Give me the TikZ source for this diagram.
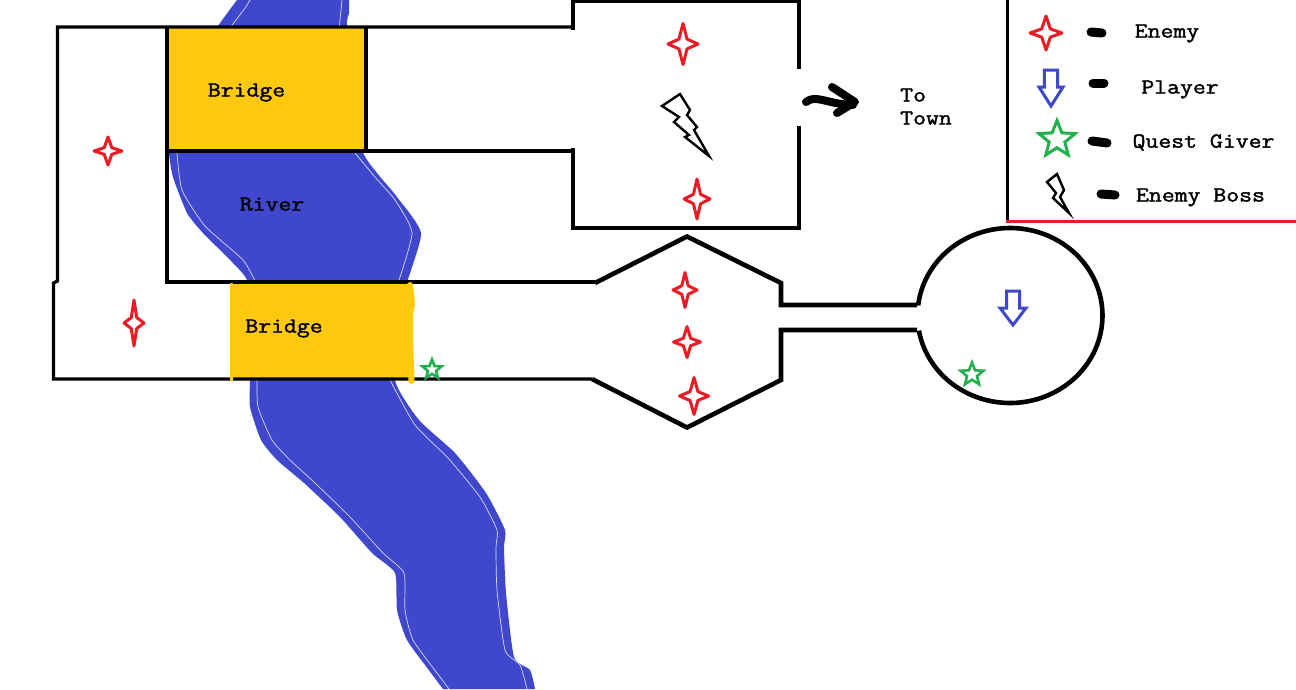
\documentclass[tikz,border=0pt]{standalone}
\usepackage{fontspec}
\usetikzlibrary{shapes.geometric}
\newfontfamily\maplabelfont[FakeBold=1.6]{Latin Modern Mono}
\definecolor{riverblue}{HTML}{3F48CC}
\definecolor{bridgeyellow}{HTML}{FFC90E}
\definecolor{enemyred}{HTML}{ED1C24}
\definecolor{questgreen}{HTML}{22B14C}
\definecolor{riverline}{HTML}{D5D8F4}
\tikzset{
  wall/.style={black,line width=3.2pt,line join=miter},
  heavywall/.style={black,line width=4.6pt,line join=miter},
  enemymark/.style={enemyred,line width=3pt,line join=round},
  playermark/.style={riverblue,line width=3pt,line join=miter},
  questmark/.style={questgreen,line width=3pt,line join=miter,draw,shape=star,star points=5,star point ratio=2.3,inner sep=0pt},
  bossmark/.style={black,line width=2.4pt,line join=miter},
  dashmark/.style={black,line width=9pt,line cap=round},
  txt/.style={font=\fontsize{21.4}{23}\maplabelfont,text=black,inner sep=0pt,text depth=0pt,xscale=1.17,transform shape},
  riveredge/.style={riverline,line width=0.7pt}
}
\newcommand{\fourstar}[4]{\draw[enemymark,shift={(#1,#2)},xscale=#3,yscale=#4]
  (1,0)--(.27,.24)--(0,1)--(-.27,.24)--(-1,0)--(-.27,-.24)--(0,-1)--(.27,-.24)--cycle;}
\newcommand{\downarrowmark}[6]{\draw[playermark] (#1-#3,#2)--(#1+#3,#2)--(#1+#3,#5)--(#1+#4,#5)--(#1,#6)--(#1-#4,#5)--(#1-#3,#5)--cycle;}
\begin{document}
\begin{tikzpicture}[x=1pt,y=-1pt]
\useasboundingbox (0,0) rectangle (1296,689);
\fill[white] (0,0) rectangle (1296,689);
% river
\fill[riverblue,line join=round] plot[smooth,tension=0.35] coordinates {
 (237,0) (218,26) (190,70) (169,120) (169,153) (173,177) (187,213) (203,233) (233,263) (248,283)
 (250,340) (250,380) (250,407) (261,440) (277,460) (304,483) (340,517) (372,553) (395,573) (397,610) (407,640) (431,673) (443,689)}
 -- plot[smooth,tension=0.35] coordinates {
 (535,689) (530,670) (514,657) (506,593) (504,547) (505,530) (486,493) (455,453) (419,420) (395,380)
 (403,320) (407,283) (421,233) (397,197) (377,173) (363,152) (355,100) (347,26) (349,13) (349,0)} -- cycle;
\draw[riveredge] plot[smooth,tension=0.35] coordinates {(250,0) (245,8) (228,30) (213,42)};
\draw[riveredge] plot[smooth,tension=0.35] coordinates {(342,0) (339,30)};
\draw[riveredge] plot[smooth,tension=0.35] coordinates {(177,153) (182,190) (205,226) (243,260) (257,285)};
\draw[riveredge] plot[smooth,tension=0.35] coordinates {(355,153) (375,177) (395,200) (412,233) (398,283)};
\draw[riveredge] plot[smooth,tension=0.35] coordinates {(257,380) (258,407) (272,440) (290,460) (315,483) (350,517) (383,553) (404,573) (405,610) (413,640) (437,673) (449,689)};
\draw[riveredge] plot[smooth,tension=0.35] coordinates {(390,380) (415,425) (448,458) (480,497) (497,530) (496,547) (497,590) (505,650) (520,665) (527,689)};
% bridges
\fill[bridgeyellow] (168,27) rectangle (366,151);
\fill[bridgeyellow] (231,282) -- (411,282) -- (412,300) -- (411,379) -- (231,379) -- cycle;
% walls
\draw[wall] (572,27) -- (57.5,27) -- (57.5,281) -- (53.5,283) -- (53.5,379) -- (592,379);
\draw[wall] (167,27) -- (167,282) -- (595,282);
\draw[wall] (366,27) -- (366,151);
\draw[wall] (167,151) -- (572,151);
\draw[wall] (573,30) -- (573,1.5) -- (799,1.5) -- (799,69);
\draw[wall] (573,148) -- (573,228) -- (799,228) -- (799,126);
\draw[heavywall] (595,283) -- (687,236.5) -- (781,283) -- (781,305) -- (917,305);
\draw[heavywall] (592,379) -- (687,427.5) -- (781,380) -- (781,330) -- (917,330);
\draw[heavywall] plot[domain=186.6:530.1,samples=120,smooth] ({1010+92.5*cos(\x)},{315.5+87.5*sin(\x)});
% bridge edges drawn over the walls
\draw[bridgeyellow,line width=3pt] (231,283) -- (231,381);
\draw[bridgeyellow,line width=6pt,line cap=round,line join=round] (410,285) -- (412,303) -- (410,315) -- (410,340) -- (411.5,381);
% legend frame
\draw[black,line width=3pt] (1007,0) -- (1007,221);
\draw[enemyred,line width=3pt] (1006,221) -- (1296,221);
% enemies
\fourstar{108}{151}{14}{14}
\fourstar{134}{323}{10}{23}
\fourstar{683}{44}{15}{20.5}
\fourstar{697}{199}{13}{20}
\fourstar{685}{290}{12}{17.5}
\fourstar{687}{342}{13.5}{15.5}
\fourstar{694}{396}{14.5}{18.5}
\fourstar{1046}{33}{16}{17}
% boss marks
\draw[bossmark] (680,94) -- (662,106) -- (679,117) -- (674,122) -- (689,135) -- (685,137) -- (709,156) -- (694,130) -- (697,127) -- (687,115) -- (690,110) -- cycle;
\draw[bossmark] (1057,174) -- (1047,182) -- (1056,193) -- (1053,198) -- (1069,213) -- (1060,197) -- (1064,190) -- cycle;
% players
\downarrowmark{1051}{70}{6.7}{12}{87}{106}
\downarrowmark{1013}{291}{6.5}{13}{308}{325}
% quest givers
\node[questmark,minimum size=38pt] (questlegend) at (1057,139.5) {};
\node[questmark,minimum size=20pt,line width=2.6pt] (questbridge) at (432,369.5) {};
\node[questmark,minimum size=24pt,line width=2.6pt] (questroom) at (972,374.5) {};
% legend dashes
\draw[dashmark] (1091,32) -- (1102,33);
\draw[dashmark] (1093,83) -- (1104,83);
\draw[dashmark] (1092,141) -- (1107,143);
\draw[dashmark] (1101,194) -- (1115,195);
% town arrow
\draw[black,line width=8pt,line cap=round,line join=round] (806,102) .. controls (816,94) and (826,104) .. (853,105);
\draw[black,line width=8pt,line cap=round,line join=round] (832,87) -- (855,102) -- (837,113);
% labels
\node[txt] (bridgeone) at (246.5,90) {Bridge};
\node[txt] (bridgetwo) at (284,326) {Bridge};
\node[txt] (river) at (272,204) {River};
\node[txt,align=left,anchor=west] (town) at (900,106.5) {To\\Town};
\node[txt] (enemy) at (1167,31) {Enemy};
\node[txt] (player) at (1180,87) {Player};
\node[txt] (quest) at (1203.5,141) {Quest Giver};
\node[txt] (boss) at (1200.5,195) {Enemy Boss};
\end{tikzpicture}
\end{document}
